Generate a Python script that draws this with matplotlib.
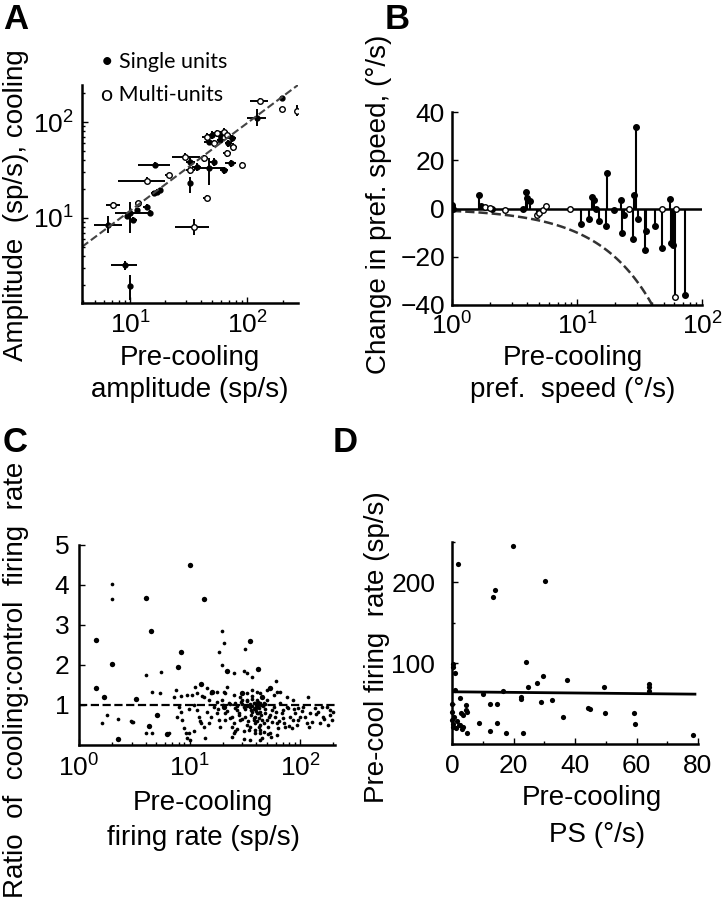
import numpy as np
import matplotlib.pyplot as plt
from matplotlib.ticker import FixedLocator, NullFormatter

plt.rcParams['font.family'] = ['Liberation Sans', 'DejaVu Sans']

# ---- panel A: amplitude pre-cooling vs cooling (x, y, x-range, y-range, single unit?)
a_x = [129, 198, 198, 264, 120, 45, 50, 55, 59, 63, 67, 74, 47, 52, 69, 76, 59,
       29.5, 16.4, 21.3, 13.9, 32.7, 32.7, 37, 43, 47, 51.5, 67, 72, 90, 63, 32.7,
       45, 16.9, 16, 18, 11.8, 13.9, 14.8, 10, 10.7, 7.2, 6.5, 35, 9.1, 10, 9.5, 11.5]
a_y = [166, 176, 135, 131, 110, 70, 73, 76, 73, 79, 73, 68, 62, 60, 60, 55, 65,
       43.6, 35.6, 28, 24.5, 38.6, 31.6, 34, 41.7, 32.9, 38.6, 47, 37, 35.7, 31.6, 22.9,
       16, 18.8, 18, 19.5, 14.2, 13.1, 11.2, 11.2, 9.5, 13.6, 8.5, 8.1, 3.24, 1.94, 10.5, 12]
a_xlo = [106, 190, 185, 255, 100, 41, 46, 51, 55, 58, 62, 69, 43, 48, 64, 71, 55,
         22.7, 11.8, 20, 7.9, 30, 30, 34, 40, 35, 48, 62, 65, 86, 58, 31,
         42, 15.5, 15, 17, 11, 13, 14, 7.4, 10, 6.3, 4.9, 24.3, 6.9, 9.7, 9, 11]
a_xhi = [151, 206, 210, 272, 145, 49, 54, 59, 63, 68, 72, 80, 51, 56, 74, 81, 63,
         39.7, 22, 22.6, 20, 35.5, 35.5, 40, 46, 63, 55, 72, 80, 94, 68, 34.5,
         48, 18.3, 17, 19, 12.6, 14.8, 15.7, 14.8, 11.4, 8.3, 8.5, 47, 11.4, 10.3, 10, 12.2]
a_ylo = [155, 170, 130, 115, 90, 64, 67, 70, 66, 72, 67, 62, 57, 55, 55, 50, 60,
         40, 33, 26.5, 22.5, 35, 29, 31, 38, 22, 35, 43, 34, 33.5, 29, 18,
         15, 17.5, 17, 18.5, 13.2, 12.2, 10.5, 6.9, 8.8, 12.5, 7.0, 6.6, 2.9, 1.41, 9.8, 11.2]
a_yhi = [178, 182, 140, 150, 135, 76, 80, 83, 80, 86, 80, 74, 67, 65, 65, 60, 70,
         47, 38, 29.5, 26.5, 42, 34, 37, 45, 41.7, 42, 51, 40, 38, 34, 26.9,
         17.2, 20.2, 19, 20.5, 15.2, 14, 12, 14.8, 10.2, 14.8, 10.5, 9.8, 3.6, 2.57, 11.5, 12.8]
a_single = [0, 1, 0, 0, 1, 0, 1, 0, 1, 0, 0, 1, 1, 0, 1, 0, 1,
            0, 1, 0, 0, 1, 0, 1, 0, 1, 1, 0, 1, 0, 1, 1,
            0, 1, 1, 1, 0, 1, 1, 1, 1, 0, 1, 0, 1, 1, 1, 1]
a_fit_x = [3.9, 270]
a_fit_y = [5.0, 243]

# ---- panel B: change in preferred speed (x, y, single unit?)
b_x = [1.0, 1.0, 1.02, 1.63, 1.72, 1.85, 2.0, 2.1, 2.65, 3.7, 3.9, 4.2, 4.0, 4.8, 5.0,
       5.3, 5.7, 8.8, 10.8, 12.4, 13.2, 13.7, 14.3, 14.9, 17, 17.5, 19.8, 22.4, 23,
       23.6, 26, 28.5, 28.3, 29.8, 31, 34.7, 35.7, 42.4, 48, 48, 55.7, 57, 59, 61, 62, 72.5]
b_y = [1.6, 0.5, 0, 5.8, 1.0, 0.6, 0.2, -0.3, -0.7, 0, 6.8, 3.0, 4.5, -2.5, -1.8,
       -0.8, 1.0, 0, -6.6, -4.5, 4.8, 3.7, -0.4, -5.2, -7.3, 14.8, -0.8, 3.7, -10,
       -2.9, 0, 5.4, -12.8, 33.6, -4.5, -17.4, -9.4, -7.3, 0, -16.3, 4, -14.2, -15, -36.5, 0, -35.9]
b_single = [1, 1, 1, 1, 1, 0, 0, 1, 0, 1, 1, 1, 1, 0, 0,
            0, 0, 0, 1, 1, 1, 1, 1, 1, 1, 1, 1, 1, 1,
            1, 0, 1, 1, 1, 1, 1, 1, 1, 0, 1, 1, 1, 1, 0, 0, 1]

# ---- panel C: ratio of cooling:control firing rate
c_big_x = [10, 4.0, 13.5, 1.42, 4.45, 2.0, 1.42, 1.69, 3.3, 2.26, 5.1, 54, 35.5, 42,
           12.6, 8.3, 7.8, 21.8, 4.3, 6.2, 16.0, 29.8, 45.2, 40.7, 20.4]
c_big_y = [4.5, 3.67, 3.64, 2.63, 2.85, 2.02, 1.42, 1.21, 1.14, 0.15, 0.75, 1.43, 2.6, 1.9,
           1.52, 2.33, 1.94, 1.85, 0.47, 0.27, 1.33, 1.29, 1.21, 1.0, 0.96]
c_x = [2.0, 2.0, 19.7, 20.3, 18.3, 32, 19.7, 25, 30.8, 33, 36.7, 4.0, 5.5, 1.6, 2.26,
       2.95, 3.1, 4.0, 4.6, 5.4, 4.6, 60, 62, 119,
       7.2, 8.0, 8.3, 8.6, 9.0, 9.2, 9.5, 10.2, 9.9, 7.5, 8.3, 7.7,
       10.6, 10.9, 11.7, 12.1, 12.6, 13.5, 13.9, 14.4, 14.9, 13.0, 11.3, 14.4, 15.5,
       16.6, 17.8, 18.4, 19.0, 19.7, 20.4, 21.1, 22.6, 23.4, 24.2, 25.1, 17.8, 21.8,
       26, 26.9, 27.8, 28.8, 29.8, 30.8, 32, 33.1, 34.3, 35.5, 36.7, 38, 39.3, 40.7,
       42.2, 42.2, 43.6, 38, 35.5, 39.3, 33.1, 36.7, 40.7, 43.6, 42.2, 39.3, 43, 43.6,
       46.8, 48.4, 50.1, 51.8, 53.7, 55.6, 57.5, 59.5, 61.6, 63.8, 66, 68.4, 70.8,
       73.3, 75.9, 50.1, 57.5, 66, 47.4, 52.9, 61.6, 45.2,
       78.5, 81.3, 87.1, 90.2, 93.3, 100, 107, 115, 123, 127, 84.2, 96.6, 111,
       136, 146, 151, 162, 174, 186, 193, 200, 180, 157,
       9.5, 11.7, 13.5, 15.5, 17.8, 21.1, 25.1, 28.8, 33.1, 36.7, 43.6, 50.1, 87.1, 75.9,
       20, 23, 27, 30, 33, 35, 37, 39, 41, 44, 46, 48,
       38, 40, 42, 44, 36, 41, 39, 43, 3.0, 1.8, 6.5, 24, 31, 26,
       22, 24, 26, 28, 30, 32, 34, 36, 38, 40, 42, 45, 48, 52, 56, 60, 65, 70,
       27, 31, 35, 39, 43, 47, 51, 55, 33, 37, 41, 29, 25, 21, 18, 15, 12.5, 11, 9.8,
       140, 165, 185, 120, 105, 95, 88, 80, 72]
c_y = [4.03, 3.64, 2.85, 2.54, 2.33, 2.39, 2.0, 1.8, 1.85, 1.8, 1.7, 1.75, 1.83, 0.54, 0.64,
       0.59, 0.57, 0.3, 0.29, 1.29, 1.33, 1.6, 1.33, 1.21,
       1.21, 0.96, 0.83, 0.625, 0.42, 0.29, 0.17, 0.125, 0.29, 1.375, 1.225, 0.71,
       1.25, 1.0, 0.875, 0.71, 0.54, 0.46, 0.17, 0.83, 1.125, 1.225, 1.46, 1.42, 0.71,
       0.96, 0.79, 0.625, 0.46, 1.125, 1.33, 0.79, 1.04, 0.67, 0.46, 0.29, 1.08, 1.46,
       1.04, 0.875, 0.75, 0.625, 1.125, 0.96, 0.71, 0.5, 0.375, 0.96, 0.83, 1.04, 0.92, 0.79,
       0.67, 0.46, 0.29, 0.625, 0.125, 0.375, 1.125, 1.375, 1.33, 1.04, 0.92, 0.71, 0.83, 0.125,
       1.04, 0.79, 0.625, 0.46, 0.29, 0.875, 0.96, 0.71, 0.54, 0.42, 1.04, 0.79, 0.67,
       0.46, 0.96, 1.125, 1.25, 1.33, 0.54, 0.75, 0.25, 0.17,
       0.92, 0.71, 0.625, 0.79, 0.5, 0.71, 0.96, 0.54, 0.79, 0.58, 0.42, 0.92, 0.71,
       0.92, 0.83, 0.54, 0.71, 0.96, 0.75, 0.625, 0.83, 0.5, 0.96,
       1.25, 1.29, 1.21, 1.29, 1.33, 1.31, 1.25, 1.21, 1.29, 1.225, 1.29, 1.375, 1.125, 1.21,
       1.0, 1.02, 0.98, 1.03, 0.97, 1.02, 0.98, 1.05, 0.95, 1.0, 0.97, 1.03,
       0.9, 0.85, 1.08, 0.75, 0.88, 0.6, 0.55, 0.5, 0.58, 0.75, 0.3, 0.2, 0.15, 0.35,
       0.85, 0.7, 0.92, 0.8, 0.65, 0.9, 0.6, 0.75, 0.68, 0.92, 0.8, 0.63, 0.9, 0.7, 0.58, 0.82, 0.6, 0.88,
       0.4, 0.35, 0.45, 0.3, 0.38, 0.33, 0.28, 0.2, 1.1, 1.15, 1.12, 1.08, 0.55, 0.62, 0.9, 0.55, 0.6, 0.35, 0.9,
       0.78, 0.65, 0.88, 0.45, 0.85, 0.62, 0.9, 0.48, 0.55]

# ---- panel D: pre-cooling firing rate vs preferred speed
d_x = [19.7, 1.8, 30.4, 14.0, 13.2, 24.0, 0.2, 0.4, 0.9, 29.7, 27.5, 37.5, 24.8, 49.4,
       64, 64, 64, 1.0, 10.2, 16.7, 22.4, 22.4, 2.6, 12.4, 14.7, 29, 32.6, 4.6, 4.6,
       3.0, 5.0, 3.6, 0.1, 0.1, 0.1, 0.2, 44.3, 45, 49.8, 59.2, 36, 59.5, 78.5, 0.6,
       1.5, 2.2, 2.7, 3.4, 3.7, 5.0, 8.9, 12.4, 14.5, 17.6, 23.2, 0.3, 1.2]
d_y = [245, 223, 202, 191, 182, 101, 99, 95, 88, 84, 76, 79, 71, 70,
       74, 70, 66, 67, 62.5, 65, 58, 56, 57, 49, 49, 52, 54, 48, 42,
       38, 40, 36, 50, 40, 30, 25, 44, 43.6, 38, 38, 33, 24.7, 11, 34,
       28, 24, 24, 19, 21, 13, 26, 16.5, 25.5, 14, 14, 21, 20]
d_fit_x = [0.5, 79]
d_fit_y = [64.6, 61.7]

W, H = 725, 899


def rect(l, t, r, b):
    return [l / W, 1 - b / H, (r - l) / W, (b - t) / H]


def style(ax, pad):
    for s in ['top', 'right']:
        ax.spines[s].set_visible(False)
    for s in ['left', 'bottom']:
        ax.spines[s].set_linewidth(1.8)
    ax.tick_params(which='both', direction='in', width=1, labelsize=19, pad=pad)
    ax.tick_params(which='major', length=4)
    ax.tick_params(which='minor', length=2.5)


fig = plt.figure(figsize=(W / 100, H / 100), dpi=100)

# A
axA = fig.add_axes(rect(82, 85, 298, 303))
a_x, a_y = np.array(a_x), np.array(a_y)
axA.errorbar(a_x, a_y,
             xerr=[a_x - np.array(a_xlo), np.array(a_xhi) - a_x],
             yerr=[a_y - np.array(a_ylo), np.array(a_yhi) - a_y],
             fmt='none', ecolor='k', elinewidth=1.4, capsize=0)
sA = np.array(a_single) == 1
axA.plot(a_x[sA], a_y[sA], 'o', color='k', ms=3.5)
axA.plot(a_x[~sA], a_y[~sA], 'o', mfc='white', mec='k', ms=4, mew=1)
axA.plot(a_fit_x, a_fit_y, '--', color='#444444', lw=1.5)
axA.set_xscale('log')
axA.set_yscale('log')
axA.set_xlim(3.9, 270)
axA.set_ylim(1.3, 243)
axA.set_xticks([10, 100])
axA.set_yticks([10, 100])
axA.xaxis.set_minor_formatter(NullFormatter())
axA.yaxis.set_minor_formatter(NullFormatter())
style(axA, 6)

# B
axB = fig.add_axes(rect(452, 112, 702, 305))
b_x, b_y = np.array(b_x), np.array(b_y)
ref_x = np.geomspace(1, 40, 80)
axB.plot(ref_x, -ref_x, '--', color='#333333', lw=1.8)
axB.axhline(0, color='k', lw=1.8)
axB.vlines(b_x, 0, b_y, color='k', lw=1.5)
sB = np.array(b_single) == 1
axB.plot(b_x[sB], b_y[sB], 'o', color='k', ms=4)
axB.plot(b_x[~sB], b_y[~sB], 'o', mfc='white', mec='k', ms=4, mew=1)
axB.set_xscale('log')
axB.set_xlim(1, 100)
axB.set_ylim(-40, 40)
axB.set_yticks([-40, -20, 0, 20, 40])
axB.xaxis.set_minor_formatter(NullFormatter())
style(axB, 5)

# C
axC = fig.add_axes(rect(79, 545, 335, 745))
axC.axhline(1, color='k', lw=1.6, ls='--')
axC.scatter(c_x, c_y, s=7, color='k', lw=0)
axC.scatter(c_big_x, c_big_y, s=15, color='k', lw=0)
axC.set_xscale('log')
axC.set_xlim(1, 207)
axC.set_ylim(0, 5)
axC.set_yticks([1, 2, 3, 4, 5])
axC.set_xticks([1, 10, 100])
axC.xaxis.set_minor_formatter(NullFormatter())
style(axC, 7)

# D
axD = fig.add_axes(rect(452, 542, 698, 744))
axD.plot(d_fit_x, d_fit_y, color='k', lw=2)
axD.scatter(d_x, d_y, s=14, color='k', lw=0, clip_on=False)
axD.set_xlim(0, 80)
axD.set_ylim(0, 250)
axD.xaxis.set_major_locator(FixedLocator([0, 20, 40, 60, 80]))
axD.xaxis.set_minor_locator(FixedLocator([10, 30, 50, 70]))
axD.yaxis.set_major_locator(FixedLocator([100, 200]))
axD.yaxis.set_minor_locator(FixedLocator([0, 50, 150, 250]))
style(axD, 7)
axD.tick_params(axis='y', pad=12)

# panel letters
for lab, px, py in [('A', 3, 3), ('B', 385, 3), ('C', 3, 426), ('D', 333, 426)]:
    fig.text(px / W, 1 - py / H, lab, fontsize=25, fontweight='bold', va='top', ha='left')

# legend of A
fig.text(101 / W, 1 - 62 / H, '\u2022 Single units', family=['Lato', 'DejaVu Sans'],
         fontsize=15.5, va='center', ha='left')
fig.text(101 / W, 1 - 95 / H, 'o Multi-units', family=['Lato', 'DejaVu Sans'],
         fontsize=15.5, va='center', ha='left')


def label(px, py, s, rot=0):
    fig.text(px / W, 1 - py / H, s, fontsize=20, rotation=rot, ha='center', va='center')


label(190, 358, 'Pre-cooling')
label(190, 390, 'amplitude (sp/s)')
label(16, 205, 'Amplitude  (sp/s), cooling', 90)
label(573, 358, 'Pre-cooling')
label(573, 390, 'pref.  speed (\u00b0/s)')
label(379, 204, 'Change in pref. speed, (\u00b0/s)', 90)
label(203, 803, 'Pre-cooling')
label(203, 838, 'firing rate (sp/s)')
label(16, 680, 'Ratio  of  cooling:control  firing  rate', 90)
label(592, 798, 'Pre-cooling')
label(597, 835, 'PS (\u00b0/s)')
label(377, 647, 'Pre-cool firing  rate (sp/s)', 90)

fig.savefig('out.png', dpi=100)
